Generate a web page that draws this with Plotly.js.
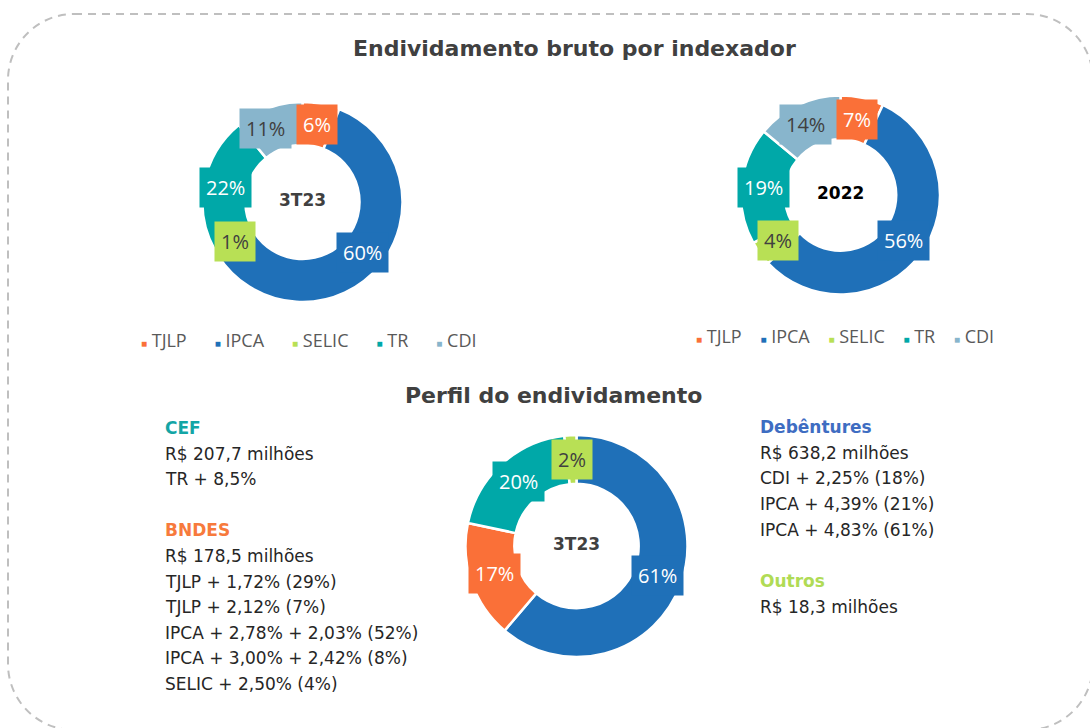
<!DOCTYPE html>
<html><head><meta charset="utf-8">
<script src="https://cdn.plot.ly/plotly-3.0.1.min.js"></script>
<style>html,body{margin:0;padding:0;background:#fff}#chart{width:1090px;height:728px}</style>
</head><body><div id="chart"></div>
<script>
// ---- data ----
const indexadores = ['TJLP', 'IPCA', 'SELIC', 'TR', 'CDI'];
const valores3T23 = [6, 60, 1, 22, 11];
const valores2022 = [7, 56, 4, 19, 14];
const coresIndexadores = ['#FA7038', '#1F70B8', '#B8E055', '#00A8A8', '#88B5CC'];

const perfilCategorias = ['Debêntures', 'BNDES', 'CEF', 'Outros'];
const perfilValores = [638.2, 178.5, 207.7, 18.3];
const perfilCores = ['#1F70B8', '#FA7038', '#00A8A8', '#B8E055'];

const tituloSuperior = 'Endividamento bruto por indexador';
const tituloInferior = 'Perfil do endividamento';
const rotulosCentro = ['3T23', '2022', '3T23'];

const cefLinhas = ['R$ 207,7 milhões', 'TR + 8,5%'];
const bndesLinhas = ['R$ 178,5 milhões', 'TJLP + 1,72% (29%)', 'TJLP + 2,12% (7%)',
  'IPCA + 2,78% + 2,03% (52%)', 'IPCA + 3,00% + 2,42% (8%)', 'SELIC + 2,50% (4%)'];
const debenturesLinhas = ['R$ 638,2 milhões', 'CDI + 2,25% (18%)', 'IPCA + 4,39% (21%)', 'IPCA + 4,83% (61%)'];
const outrosLinhas = ['R$ 18,3 milhões'];

// ---- layout helpers ----
const W = 1090, H = 728;
const FONT = 'Open Sans, Noto Sans, sans-serif';
const FONT_TXT = 'DejaVu Sans, Verdana, sans-serif';
const px = x => x / W;
const py = y => 1 - y / H;

function isLight(hex) {
  const r = parseInt(hex.slice(1, 3), 16), g = parseInt(hex.slice(3, 5), 16), b = parseInt(hex.slice(5, 7), 16);
  return (0.299 * r + 0.587 * g + 0.114 * b) > 160;
}

const g1 = {cx: 302.5, cy: 202, r: 100, hole: 0.57};
const g2 = {cx: 840.5, cy: 195, r: 99.5, hole: 0.56};
const g3 = {cx: 576.5, cy: 546, r: 111, hole: 0.56};

function pieTrace(labels, values, colors, g) {
  return {
    type: 'pie', labels: labels, values: values, sort: false, direction: 'clockwise', rotation: 0,
    hole: g.hole, marker: {colors: colors, line: {color: '#ffffff', width: 2.5}},
    textinfo: 'none', hoverinfo: 'label+percent', showlegend: false,
    domain: {x: [px(g.cx - g.r), px(g.cx + g.r)], y: [py(g.cy + g.r), py(g.cy - g.r)]}
  };
}

function pieLabels(values, colors, g) {
  const sum = values.reduce((a, b) => a + b, 0);
  let acc = 0;
  const rm = g.r * (1 + g.hole) / 2;
  const boxes = values.map((v, i) => {
    const m = (acc + v / 2) / sum; acc += v;
    const th = 2 * Math.PI * m;
    const text = Math.round(v / sum * 100) + '%';
    return {x: g.cx + rm * Math.sin(th), y: g.cy - rm * Math.cos(th), text: text, w: 12 * text.length + 14, h: 36};
  });
  // nudge a label away from its neighbour when boxes touch (like the spreadsheet label placement)
  const n = boxes.length;
  for (let i = 0; i < n; i++) {
    const a = boxes[i], b = boxes[(i + 1) % n];
    const need = (a.w + b.w) / 2 + 8;
    if (Math.abs(a.y - b.y) < (a.h + b.h) / 2 && Math.abs(a.x - b.x) < need) {
      const mover = (i + 1) % n === 0 ? a : b;
      const other = mover === a ? b : a;
      mover.x = other.x + Math.sign(mover.x - other.x) * need;
    }
  }
  return boxes.map((bx, i) => ({
    xref: 'paper', yref: 'paper', x: px(bx.x), y: py(bx.y), xanchor: 'center', yanchor: 'middle',
    text: bx.text, showarrow: false, bgcolor: colors[i], borderpad: 6,
    font: {family: FONT, size: 20, color: isLight(colors[i]) ? '#404040' : '#ffffff'}
  }));
}

function legendAnn(names, colors, cx, y, gap) {
  const sp = '&nbsp;'.repeat(gap);
  const txt = names.map((n, i) => `<span style="color:${colors[i]};font-size:10px">■</span>&nbsp;${n}`).join(sp);
  return {xref: 'paper', yref: 'paper', x: px(cx), y: py(y), xanchor: 'center', yanchor: 'middle',
    text: txt, showarrow: false, font: {family: FONT, size: 18, color: '#595959'}};
}

function blockAnns(x, y0, step, blocks) {
  const anns = [];
  let k = 0;
  blocks.forEach((b, bi) => {
    if (bi > 0) k++; // blank line between blocks
    anns.push({xref: 'paper', yref: 'paper', x: px(x), y: py(y0 + k * step), xanchor: 'left', yanchor: 'middle',
      text: '<b>' + b.head + '</b>', showarrow: false, font: {family: FONT_TXT, size: 17, color: b.color}});
    k++;
    b.lines.forEach(l => {
      anns.push({xref: 'paper', yref: 'paper', x: px(x), y: py(y0 + k * step), xanchor: 'left', yanchor: 'middle',
        text: l, showarrow: false, font: {family: FONT_TXT, size: 17, color: '#262626'}});
      k++;
    });
  });
  return anns;
}

function roundedRectPath(l, t, r, b, R) {
  const k = 0.5523 * R;
  const P = (x, y) => px(x) + ',' + py(y);
  return 'M' + P(l + R, t) + ' L' + P(r - R, t) +
    ' C' + P(r - R + k, t) + ' ' + P(r, t + R - k) + ' ' + P(r, t + R) +
    ' L' + P(r, b - R) +
    ' C' + P(r, b - R + k) + ' ' + P(r - R + k, b) + ' ' + P(r - R, b) +
    ' L' + P(l + R, b) +
    ' C' + P(l + R - k, b) + ' ' + P(l, b - R + k) + ' ' + P(l, b - R) +
    ' L' + P(l, t + R) +
    ' C' + P(l, t + R - k) + ' ' + P(l + R - k, t) + ' ' + P(l + R, t) + ' Z';
}

const traces = [
  pieTrace(indexadores, valores3T23, coresIndexadores, g1),
  pieTrace(indexadores, valores2022, coresIndexadores, g2),
  pieTrace(perfilCategorias, perfilValores, perfilCores, g3)
];

let annotations = [];
annotations = annotations.concat(pieLabels(valores3T23, coresIndexadores, g1));
annotations = annotations.concat(pieLabels(valores2022, coresIndexadores, g2));
annotations = annotations.concat(pieLabels(perfilValores, perfilCores, g3));

annotations.push({xref: 'paper', yref: 'paper', x: px(575), y: py(49), xanchor: 'center', yanchor: 'middle',
  text: '<b>' + tituloSuperior + '</b>', showarrow: false, font: {family: FONT_TXT, size: 22, color: '#404040'}});
annotations.push({xref: 'paper', yref: 'paper', x: px(553), y: py(396), xanchor: 'center', yanchor: 'middle',
  text: '<b>' + tituloInferior + '</b>', showarrow: false, font: {family: FONT_TXT, size: 22, color: '#404040'}});

[[g1, '#404040'], [g2, '#000000'], [g3, '#404040']].forEach((p, i) => {
  annotations.push({xref: 'paper', yref: 'paper', x: px(p[0].cx), y: py(p[0].cy - 2), xanchor: 'center', yanchor: 'middle',
    text: '<b>' + rotulosCentro[i] + '</b>', showarrow: false, font: {family: FONT_TXT, size: 17, color: p[1]}});
});

annotations.push(legendAnn(indexadores, coresIndexadores, 309, 340, 6));
annotations.push(legendAnn(indexadores, coresIndexadores, 845, 336, 4));

annotations = annotations.concat(blockAnns(163, 428, 25.6, [
  {head: 'CEF', color: '#13A5A5', lines: cefLinhas},
  {head: 'BNDES', color: '#F77A3C', lines: bndesLinhas}
]));
annotations = annotations.concat(blockAnns(758, 427, 25.7, [
  {head: 'Debêntures', color: '#3E6DC2', lines: debenturesLinhas},
  {head: 'Outros', color: '#B0DB55', lines: outrosLinhas}
]));

const layout = {
  width: W, height: H, margin: {l: 0, r: 0, t: 0, b: 0},
  paper_bgcolor: '#ffffff', plot_bgcolor: '#ffffff', showlegend: false,
  annotations: annotations,
  shapes: [{type: 'path', xref: 'paper', yref: 'paper', path: roundedRectPath(8, 14, 1093, 730, 66),
    line: {color: '#BFBFBF', width: 2, dash: '8px,6px'}, fillcolor: 'rgba(0,0,0,0)', layer: 'below'}]
};

Plotly.newPlot('chart', traces, layout, {displayModeBar: false, staticPlot: true});
</script>
</body></html>
